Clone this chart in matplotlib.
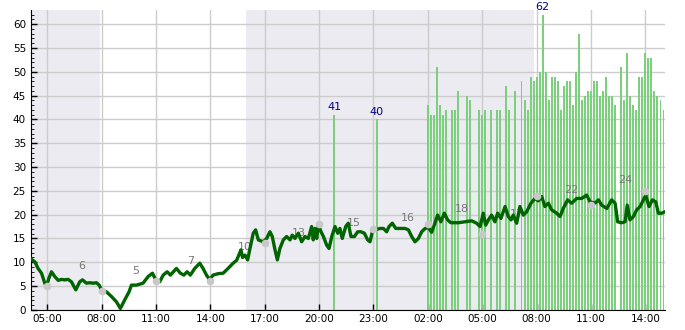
import numpy as np
import pandas as pd
import matplotlib
matplotlib.use("Agg")
import matplotlib.pyplot as plt
import matplotlib.dates as mdates

# hours are counted from 00:00 of the first day
base = pd.Timestamp("2023-03-14 00:00")

# mean wind (dark green line)
wind_hours = [4.14, 4.32, 4.50, 4.69, 4.87, 4.96, 5.09, 5.24, 5.42, 5.61, 5.79, 5.97,
              6.16, 6.34, 6.58, 6.80, 6.95, 7.17, 7.35, 7.54, 7.72, 7.87, 8.00, 8.27,
              8.55, 8.82, 9.04, 9.28, 9.52, 9.65, 9.93, 10.29, 10.57, 10.81, 10.99, 11.21,
              11.40, 11.62, 11.80, 12.13, 12.35, 12.54, 12.72, 12.90, 13.14, 13.42, 13.60,
              13.79, 13.97, 14.15, 14.43, 14.71, 14.98, 15.26, 15.45, 15.54, 15.69, 15.78,
              15.91, 16.06, 16.19, 16.37, 16.50, 16.65, 16.92, 17.11, 17.29, 17.42, 17.57,
              17.70, 17.84, 18.03, 18.21, 18.40, 18.52, 18.67, 18.86, 19.04, 19.22, 19.41,
              19.59, 19.68, 19.77, 19.87, 19.96, 20.11, 20.24, 20.42, 20.55, 20.70, 20.88,
              21.03, 21.15, 21.28, 21.47, 21.61, 21.76, 21.95, 22.13, 22.31, 22.50, 22.68,
              22.81, 22.94, 23.09, 23.36, 23.55, 23.73, 23.86, 24.04, 24.23, 24.47, 24.74,
              24.93, 25.11, 25.29, 25.48, 25.66, 25.85, 26.03, 26.21, 26.39, 26.54, 26.72,
              26.91, 27.09, 27.27, 27.68, 28.05, 28.42, 28.69, 28.88, 29.06, 29.19, 29.34,
              29.52, 29.70, 29.85, 30.03, 30.26, 30.44, 30.59, 30.71, 30.90, 31.08, 31.27,
              31.45, 31.69, 31.91, 32.09, 32.28, 32.46, 32.65, 32.83, 33.11, 33.29, 33.47,
              33.71, 33.93, 34.21, 34.49, 34.76, 34.95, 35.22, 35.41, 35.59, 35.87, 36.14,
              36.33, 36.47, 36.69, 36.88, 37.00, 37.15, 37.34, 37.52, 37.71, 37.89, 38.02,
              38.20, 38.39, 38.57, 38.72, 38.90, 39.08]
wind_speed = [10.6, 10.1, 8.7, 7.7, 5.6, 4.9, 6.6, 8.0, 7.0, 6.2, 6.4, 6.3,
              6.4, 5.9, 4.2, 5.9, 6.3, 5.6, 5.7, 5.6, 5.7, 5.2, 4.2, 3.8,
              2.8, 1.7, 0.3, 2.1, 3.8, 5.2, 5.2, 5.6, 7.0, 7.7, 6.3, 5.9,
              7.3, 8.0, 7.3, 8.7, 7.7, 7.3, 8.0, 7.3, 8.7, 9.8, 8.7,
              7.3, 6.3, 7.3, 7.6, 7.7, 8.7, 9.8, 10.4, 11.2, 12.6, 11.0,
              11.5, 10.5, 12.9, 16.1, 16.8, 14.7, 14.3, 15.0, 16.4, 15.4, 12.6,
              10.5, 12.9, 14.7, 15.4, 14.7, 15.7, 15.0, 16.1, 14.3, 15.4, 15.0,
              17.5, 14.7, 17.1, 15.0, 17.8, 16.4, 15.4, 13.6, 12.9, 15.4, 17.5,
              16.1, 17.1, 15.0, 17.5, 18.2, 15.4, 15.4, 16.4, 16.4, 16.1, 14.7,
              14.3, 16.4, 16.8, 17.1, 17.1, 16.4, 17.5, 18.2, 17.1, 17.1, 17.1,
              16.8, 15.4, 14.3, 15.0, 16.4, 17.1, 17.3, 16.3, 18.2, 19.9, 18.5,
              20.3, 18.9, 18.3, 18.3, 18.5, 18.7, 18.2, 17.5, 20.3, 17.8, 18.9,
              19.9, 18.5, 20.3, 19.2, 21.7, 19.6, 18.9, 19.9, 18.2, 21.7, 19.9,
              20.6, 22.4, 23.4, 22.9, 23.8, 21.7, 22.4, 21.0, 20.3, 19.6, 21.3,
              23.1, 22.4, 23.4, 23.4, 24.1, 22.7, 22.4, 23.1, 22.0, 21.3, 23.1,
              22.4, 18.5, 18.3, 18.5, 22.0, 18.9, 19.6, 21.0, 21.7, 23.1, 24.1,
              21.7, 23.1, 22.7, 20.3, 20.3, 20.6]

# gusts (light green bars), every 10 minutes from 02:00 on day two, None = no gust
gust_start = 26.0
gust_values = [43, 41, 41, 51, 43, 41, 42, None, 42, 42, 46, None, None, 45, 44, None,
               None, 42, 41, 42, None, 42, None, 42, 42, None, 47, 42, None, 46, None,
               48, 44, 42, 49, 48, 49, 50, 62, 50, 44, 49, 49, 48, 42, 47, 48, 48, 43,
               50, 58, 44, 45, 46, 46, 48, 48, 45, 46, 49, 45, 45, 43, None, 51, 44, 54,
               45, 43, 42, 49, 49, 54, 53, 53, 46, 45, 44, 42]
# isolated gusts during the evening
lone_gust_hours = [20.83, 23.17]
lone_gust_values = [41, 40]

# observations every 3 hours (grey dots)
obs_hours = [5, 8, 11, 14, 17, 20, 23, 26, 29, 32, 35, 38]
obs_values = [5, 4, 6, 6, 14, 18, 17, 18, 16, 24, 22, 25]

# 3-hour averages (grey numbers)
avg_hours = [6.9, 9.9, 12.9, 15.9, 18.9, 21.9, 24.9, 27.9, 30.9, 33.9, 36.9]
avg_values = [6, 5, 7, 10, 13, 15, 16, 18, 17, 22, 24]

# night shading
nights = [(4.0, 7.91), (15.97, 31.86)]

tick_hours = [5, 8, 11, 14, 17, 20, 23, 26, 29, 32, 35, 38]


def to_time(h):
    return base + pd.to_timedelta(np.asarray(h, dtype=float), unit="h")


fig = plt.figure(figsize=(6.85, 3.30), dpi=100)
ax = fig.add_axes([0.045, 0.061, 0.926, 0.909])

for a, b in nights:
    ax.axvspan(to_time(a), to_time(b), color="#ebebf1", lw=0, zorder=0)

ax.grid(True, color="#cccccc", lw=1, zorder=1)
ax.set_axisbelow(True)

bar_w = pd.Timedelta(minutes=6.5)
gust_h = [gust_start + i / 6 for i, v in enumerate(gust_values) if v is not None]
gust_v = [v for v in gust_values if v is not None]
ax.bar(to_time(gust_h), gust_v, width=bar_w, color="#7ccf7c", zorder=2)
ax.bar(to_time(lone_gust_hours), lone_gust_values, width=bar_w, color="#7ccf7c", zorder=2)

# blue labels on the highest gusts
i_max = int(np.argmax(gust_v))
for h, v in list(zip(lone_gust_hours, lone_gust_values)) + [(gust_h[i_max], gust_v[i_max])]:
    ax.text(to_time(h), v + 0.6, str(v), color="#00008b", fontsize=8,
            ha="center", va="bottom", zorder=5, clip_on=False)

for h, v in zip(avg_hours, avg_values):
    ax.text(to_time(h), v + 3.2, str(v), color="#777777", fontsize=8,
            ha="center", va="center", zorder=3)

ax.plot(to_time(wind_hours), wind_speed, color="#006400", lw=2.4, zorder=4)
ax.plot(to_time(obs_hours), obs_values, "o", color="#c8c8c8", ms=5.5, mec="none", zorder=5)

ax.set_xlim(to_time(4.10), to_time(39.09))
ax.set_ylim(0, 63)
ax.set_xticks(to_time(tick_hours))
ax.xaxis.set_major_formatter(mdates.DateFormatter("%H:%M"))
ax.set_yticks(range(0, 61, 5))
ax.set_yticks(range(0, 63), minor=True)
ax.tick_params(axis="both", direction="in", labelsize=7.5, length=4, width=1)
ax.tick_params(axis="y", which="minor", direction="in", length=2.5)
ax.tick_params(axis="x", pad=3)

for s in ["top", "right"]:
    ax.spines[s].set_visible(False)

fig.savefig("out.png", dpi=100)
